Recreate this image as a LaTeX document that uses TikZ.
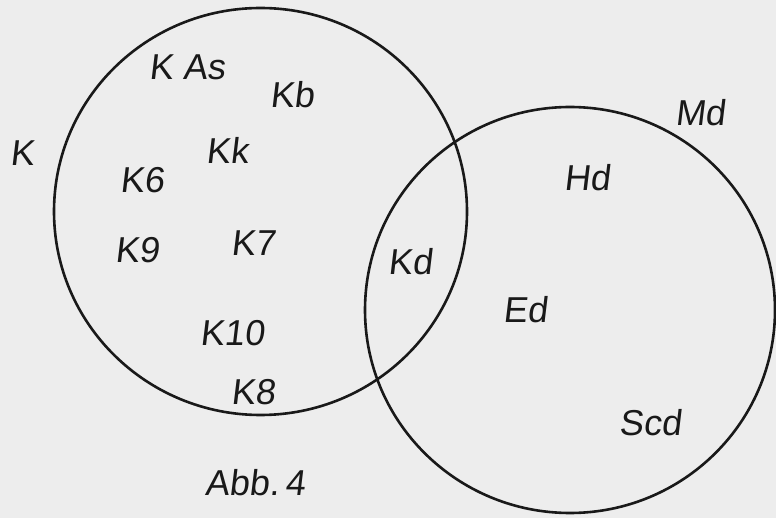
\documentclass[tikz,border=0pt]{standalone}
\usepackage{fontspec}
\setmainfont{Liberation Sans}[FakeSlant=0.12]
\begin{document}
\begin{tikzpicture}[x=1pt,y=-1pt,
  lbl/.style={inner sep=0pt,font=\fontsize{36}{40}\selectfont,text=black!90},
  set/.style={draw=black!90,line width=2.6pt}]
\fill[black!7] (0,0) rectangle (776,518);
\useasboundingbox (0,0) rectangle (776,518);
\draw[set] (260.5,211.5) ellipse [x radius=206.5,y radius=203.5];
\draw[set] (570,310) ellipse [x radius=205,y radius=203];
\node[lbl] (k) at (22,153) {K};
\node[lbl] (kas) at (187,67) {K As};
\node[lbl] (kb) at (292,95) {Kb};
\node[lbl] (kk) at (227,150) {Kk};
\node[lbl] (k6) at (142,180) {K6};
\node[lbl] (k9) at (137,250) {K9};
\node[lbl] (k7) at (253,243) {K7};
\node[lbl] (k10) at (232,333) {K10};
\node[lbl] (k8) at (253,392) {K8};
\node[lbl] (abb) at (255,483) {Abb.\,4};
\node[lbl] (kd) at (410,262) {Kd};
\node[lbl] (hd) at (587,178) {Hd};
\node[lbl] (ed) at (525,310) {Ed};
\node[lbl] (scd) at (650,423) {Scd};
\node[lbl] (md) at (700,113) {Md};
\end{tikzpicture}
\end{document}
